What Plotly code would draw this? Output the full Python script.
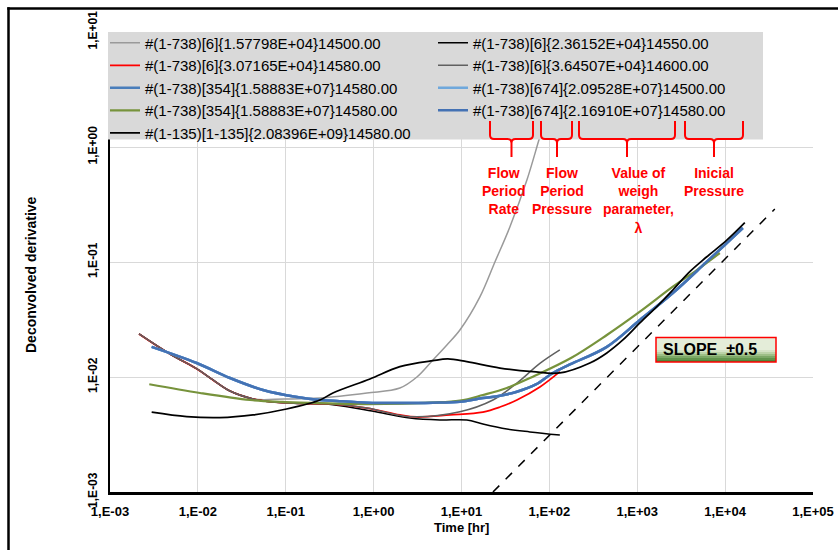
import plotly.graph_objects as go

# ---------------- data ----------------
x_tickvals = [1e-3, 1e-2, 1e-1, 1e0, 1e1, 1e2, 1e3, 1e4, 1e5]
x_ticktext = ["1,E-03", "1,E-02", "1,E-01", "1,E+00", "1,E+01", "1,E+02", "1,E+03", "1,E+04", "1,E+05"]
y_tickvals = [1e-3, 1e-2, 1e-1, 1e0, 1e1]
y_ticktext = ["1,E-03", "1,E-02", "1,E-01", "1,E+00", "1,E+01"]

names = [
    "#(1-738)[6]{1.57798E+04}14500.00",
    "#(1-738)[6]{2.36152E+04}14550.00",
    "#(1-738)[6]{3.07165E+04}14580.00",
    "#(1-738)[6]{3.64507E+04}14600.00",
    "#(1-738)[354]{1.58883E+07}14580.00",
    "#(1-738)[674]{2.09528E+07}14500.00",
    "#(1-738)[354]{1.58883E+07}14580.00",
    "#(1-738)[674]{2.16910E+07}14580.00",
    "#(1-135)[1-135]{2.08396E+09}14580.00",
]

gray_t = [0.00214, 0.00482, 0.00977, 0.01486, 0.0232, 0.0424, 0.0979, 0.245, 0.840, 1.99, 3.11, 4.73, 6.82, 9.59, 16.2, 24.0, 35.5, 55.5, 76.0, 96.2]
gray_d = [0.0237, 0.01585, 0.01175, 0.00942, 0.00755, 0.00644, 0.00644, 0.00656, 0.00726, 0.00802, 0.0100, 0.01406, 0.0190, 0.0256, 0.0497, 0.100, 0.2015, 0.516, 1.15, 2.10]

black6_t = [0.00214, 0.00482, 0.00977, 0.01486, 0.0232, 0.0424, 0.0661, 0.145, 0.344, 1.09, 2.59, 5.68, 11.5, 17.5, 32.8, 60.0, 131.6]
black6_d = [0.0237, 0.01585, 0.01175, 0.00942, 0.00755, 0.00644, 0.00610, 0.00589, 0.00575, 0.00496, 0.00440, 0.00423, 0.00423, 0.00390, 0.00353, 0.00333, 0.00313]

red_t = [0.00214, 0.00482, 0.00977, 0.01486, 0.0232, 0.0424, 0.0661, 0.145, 0.344, 0.840, 1.99, 3.11, 7.38, 17.5, 27.4, 42.7, 78.0, 131.6]
red_d = [0.0237, 0.01585, 0.01175, 0.00942, 0.00755, 0.00644, 0.00610, 0.00589, 0.00582, 0.00537, 0.00468, 0.00449, 0.00468, 0.00496, 0.00548, 0.00631, 0.00818, 0.01112]

dgray_t = [0.00214, 0.00482, 0.00977, 0.01486, 0.0232, 0.0424, 0.0661, 0.145, 0.344, 0.840, 2.59, 9.59, 22.8, 42.7, 78.0, 131.6]
dgray_d = [0.0237, 0.01585, 0.01175, 0.00942, 0.00755, 0.00644, 0.00610, 0.00589, 0.00582, 0.00537, 0.00452, 0.00499, 0.00631, 0.00885, 0.01313, 0.0172]

blue354_t = [0.00298, 0.00968, 0.0232, 0.0551, 0.134, 0.245, 0.344, 0.840, 1.99, 4.73, 9.59, 17.5, 27.4, 42.7, 70.2, 109.6, 171, 451, 1071, 2541, 6194, 10450, 15900]
blue354_d = [0.0183, 0.01324, 0.0098, 0.00771, 0.00670, 0.00631, 0.00622, 0.00598, 0.00594, 0.00598, 0.00610, 0.00656, 0.00687, 0.00745, 0.00861, 0.01084, 0.01285, 0.0183, 0.0313, 0.0537, 0.1007, 0.146, 0.1976]

lblue674_t = [0.00298, 0.00968, 0.0232, 0.0551, 0.134, 0.245, 0.344, 0.840, 1.99, 4.73, 9.59, 17.5, 27.4, 42.7, 70.2, 109.6, 171, 451, 1071, 2541, 6194, 10450, 15900]
lblue674_d = [0.0183, 0.01324, 0.0098, 0.00771, 0.00670, 0.00631, 0.00622, 0.00598, 0.00594, 0.00598, 0.00610, 0.00656, 0.00687, 0.00745, 0.00861, 0.01084, 0.01285, 0.0183, 0.0313, 0.0537, 0.1007, 0.146, 0.1976]

green354_t = [0.00280, 0.01057, 0.0392, 0.0929, 0.145, 0.840, 4.73, 9.59, 17.5, 32.8, 64.9, 176, 451, 1071, 2541, 4764, 8710]
green354_d = [0.00865, 0.00726, 0.00631, 0.00607, 0.00598, 0.00582, 0.00598, 0.00622, 0.00697, 0.00802, 0.01007, 0.01462, 0.0232, 0.0370, 0.0610, 0.0851, 0.1197]

blue674_t = [0.00298, 0.00968, 0.0232, 0.0551, 0.134, 0.245, 0.344, 0.840, 1.99, 4.73, 9.59, 17.5, 27.4, 42.7, 70.2, 109.6, 171, 451, 1071, 2541, 6194, 10450, 15900]
blue674_d = [0.0183, 0.01324, 0.0098, 0.00771, 0.00670, 0.00631, 0.00622, 0.00598, 0.00594, 0.00598, 0.00610, 0.00656, 0.00687, 0.00745, 0.00861, 0.01084, 0.01285, 0.0183, 0.0313, 0.0537, 0.1007, 0.146, 0.1976]

black135_t = [0.00298, 0.00747, 0.0178, 0.0424, 0.102, 0.245, 0.344, 0.908, 1.99, 4.73, 7.00, 11.5, 27.4, 64.9, 131.6, 289, 451, 686, 1071, 1671, 2541, 3963, 6194, 10450, 16750]
black135_d = [0.00494, 0.00452, 0.00443, 0.00468, 0.00527, 0.00631, 0.00726, 0.00961, 0.01230, 0.01387, 0.01435, 0.01358, 0.01197, 0.01112, 0.01084, 0.01324, 0.0162, 0.0210, 0.0295, 0.0409, 0.0571, 0.0824, 0.111, 0.155, 0.220]

slope_t = [22.8, 36740]
slope_d = [0.001, 0.289]

# ---------------- styling ----------------
FONT = "Arial, Liberation Sans, sans-serif"
W, H = 838, 550
L, T, PW, PH = 110, 32, 703, 460


def px_x(px):
    return (px - L) / PW


def px_y(py):
    return (T + PH - py) / PH


series = [
    (gray_t, gray_d, "#9A9A9A", 1.5),
    (black6_t, black6_d, "#000000", 1.5),
    (red_t, red_d, "#FF0000", 1.75),
    (dgray_t, dgray_d, "#606060", 1.5),
    (blue354_t, blue354_d, "#4A7EBB", 2.5),
    (lblue674_t, lblue674_d, "#6FA8DC", 2.5),
    (green354_t, green354_d, "#77933C", 2.25),
    (blue674_t, blue674_d, "#4472B4", 2.5),
    (black135_t, black135_d, "#000000", 1.75),
]

fig = go.Figure()
for (t, d, c, w), n in zip(series, names):
    fig.add_trace(go.Scatter(x=t, y=d, mode="lines", name=n,
                             line=dict(color=c, width=w, shape="spline", smoothing=1.0)))

fig.add_trace(go.Scatter(x=slope_t, y=slope_d, mode="lines", showlegend=False,
                         line=dict(color="#000000", width=1.5, dash="dash")))

shapes = []
# outer frame (only its left and top edges fall inside the picture)
shapes.append(dict(type="line", xref="paper", yref="paper", x0=px_x(8.5), x1=px_x(8.5),
                   y0=px_y(550), y1=px_y(7.3), line=dict(color="black", width=2.5), layer="above"))
shapes.append(dict(type="line", xref="paper", yref="paper", x0=px_x(7.3), x1=px_x(838),
                   y0=px_y(8.5), y1=px_y(8.5), line=dict(color="black", width=2.5), layer="above"))
# legend background box
shapes.append(dict(type="rect", xref="paper", yref="paper", x0=px_x(108), x1=px_x(763),
                   y0=px_y(139.5), y1=px_y(32), fillcolor="#D9D9D9", line=dict(width=0), layer="above"))


# braces
def brace(x0, x1, tip, yt=121, ym=139, yb=157, r=4):
    def P(x, y):
        return f"{px_x(x):.5f},{px_y(y):.5f}"
    path = (f"M{P(x0, yt)} L{P(x0, ym - r)} Q{P(x0, ym)} {P(x0 + r, ym)} L{P(tip - r, ym)} "
            f"Q{P(tip, ym)} {P(tip, ym + r)} L{P(tip, yb)} M{P(tip, ym + r)} Q{P(tip, ym)} {P(tip + r, ym)} "
            f"L{P(x1 - r, ym)} Q{P(x1, ym)} {P(x1, ym - r)} L{P(x1, yt)}")
    return dict(type="path", xref="paper", yref="paper", path=path,
                line=dict(color="#FF0000", width=2), layer="above")


for b in [(490, 533, 511.5), (541, 572, 557), (579, 675, 627), (685, 743, 714)]:
    shapes.append(brace(*b))

# slope box with vertical gradient
bx0, bx1, by0, by1 = 656, 776, 337.5, 362
shapes.append(dict(type="rect", xref="paper", yref="paper", x0=px_x(bx0), x1=px_x(bx1),
                   y0=px_y(by1), y1=px_y(by0), fillcolor="#E4EDD9", line=dict(width=0), layer="above"))
grad = ["#D5E3C6", "#BCD3A8", "#9DBF86", "#7CA866", "#62954D", "#4F873B"]
gy = 350.0
step = (by1 - gy) / len(grad)
for i, gc in enumerate(grad):
    shapes.append(dict(type="rect", xref="paper", yref="paper", x0=px_x(bx0), x1=px_x(bx1),
                       y0=px_y(gy + (i + 1) * step), y1=px_y(gy + i * step), fillcolor=gc,
                       line=dict(width=0), layer="above"))
shapes.append(dict(type="rect", xref="paper", yref="paper", x0=px_x(bx0), x1=px_x(bx1),
                   y0=px_y(by1), y1=px_y(by0), line=dict(color="#FF0000", width=1.5), layer="above"))

annotations = []
red_font = dict(family=FONT, size=14, color="#FF0000", weight="bold")
for txt, cx in [("Flow<br>Period<br>Rate", 504), ("Flow<br>Period<br>Pressure", 562),
                ("Value of<br>weigh<br>parameter,<br>λ", 638), ("Inicial<br>Pressure", 714)]:
    annotations.append(dict(text=txt, xref="paper", yref="paper", x=px_x(cx), y=px_y(163),
                            xanchor="center", yanchor="top", showarrow=False, align="center",
                            font=red_font))
annotations.append(dict(text="SLOPE\u00a0 ±0.5", xref="paper", yref="paper", x=px_x(710), y=px_y(349.5),
                        xanchor="center", yanchor="middle", showarrow=False,
                        font=dict(family=FONT, size=16, color="black", weight="bold")))
annotations.append(dict(text="Time [hr]", xref="paper", yref="paper", x=px_x(461), y=px_y(527),
                        xanchor="center", yanchor="middle", showarrow=False,
                        font=dict(family=FONT, size=13, color="black", weight="bold")))
annotations.append(dict(text="Deconvolved derivative", xref="paper", yref="paper", x=px_x(31), y=px_y(275),
                        xanchor="center", yanchor="middle", showarrow=False, textangle=-90,
                        font=dict(family=FONT, size=14, color="black", weight="bold")))

fig.update_layout(
    width=W, height=H,
    margin=dict(l=L, r=W - L - PW, t=T, b=H - T - PH, autoexpand=False),
    paper_bgcolor="white", plot_bgcolor="white",
    font=dict(family=FONT, color="black"),
    showlegend=True,
    legend=dict(orientation="h", x=px_x(105), y=px_y(26.5), xanchor="left", yanchor="top",
                bgcolor="rgba(0,0,0,0)", font=dict(family=FONT, size=15, color="black"),
                entrywidth=283, entrywidthmode="pixels", itemwidth=30, traceorder="normal"),
    xaxis=dict(type="log", range=[-3, 5], tickvals=x_tickvals, ticktext=x_ticktext,
               tickfont=dict(family=FONT, size=13, color="black", weight="bold"),
               showgrid=True, gridcolor="#D9D9D9", gridwidth=1, zeroline=False,
               showline=True, linecolor="black", linewidth=2.5, ticks="", ticklabelstandoff=6),
    yaxis=dict(type="log", range=[-3, 1], tickvals=y_tickvals, ticktext=y_ticktext, tickangle=-90,
               tickfont=dict(family=FONT, size=12, color="black", weight="bold"),
               showgrid=True, gridcolor="#D9D9D9", gridwidth=1, zeroline=False,
               showline=True, linecolor="black", linewidth=1.5, ticks="", ticklabelstandoff=6),
    shapes=shapes, annotations=annotations,
)

fig.write_html("out.html")
